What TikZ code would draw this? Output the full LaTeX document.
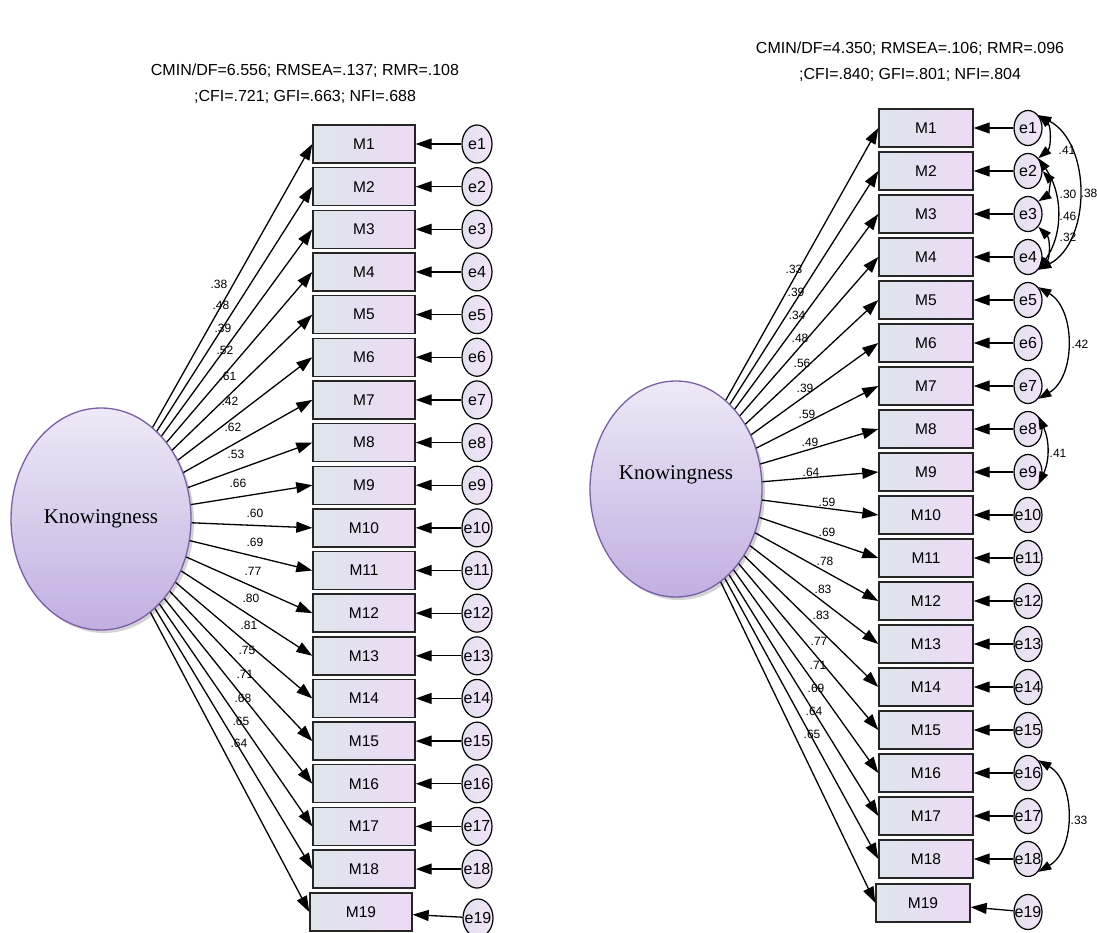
\documentclass[tikz,border=0pt]{standalone}
\usepackage{fontspec}
\setmainfont{Liberation Sans}
\newfontfamily\serifname{Liberation Serif}
\usetikzlibrary{shapes,arrows.meta,shadows}
\definecolor{boxL}{RGB}{222,229,236}
\definecolor{boxR}{RGB}{238,218,245}
\definecolor{errL}{RGB}{226,224,238}
\definecolor{errR}{RGB}{243,228,248}
\definecolor{latTop}{RGB}{238,233,247}
\definecolor{latBot}{RGB}{193,175,225}
\definecolor{latEdge}{RGB}{122,94,166}
\tikzstyle{obs} = [rectangle, draw=black!85, line width=1.4pt, left color=boxL, right color=boxR,
    minimum height=38pt, inner sep=0pt, font=\fontsize{15.5}{15.5}\selectfont]
\tikzstyle{err} = [ellipse, draw, line width=1.2pt, left color=errL, right color=errR,
    inner sep=-6pt, font=\fontsize{16}{16}\selectfont]
\tikzstyle{latent} = [ellipse, draw=latEdge, line width=1.3pt, top color=latTop, bottom color=latBot,
    drop shadow={shadow xshift=3pt, shadow yshift=-3pt, opacity=0.35},
    font=\serifname\fontsize{21}{21}\selectfont]
\tikzstyle{line} = [draw, line width=1.3pt, -{Triangle[length=16pt,width=11pt]}]
\tikzstyle{cov} = [draw, line width=1.3pt, {Triangle[length=13pt,width=9pt]}-{Triangle[length=13pt,width=9pt]}]
\tikzstyle{lbl} = [inner sep=0pt, font=\fontsize{12}{12}\selectfont]
\tikzstyle{fitidx} = [align=center, font=\fontsize{16}{26}\selectfont]

\begin{document}
\begin{tikzpicture}[x=1pt, y=-1pt]
    \useasboundingbox (0,0) rectangle (1097,933);
    % fit indices
    \node [fitidx] (fitL) at (305,84) {CMIN/DF=6.556; RMSEA=.137; RMR=.108\\;CFI=.721; GFI=.663; NFI=.688};
    \node [fitidx] (fitR) at (910,62) {CMIN/DF=4.350; RMSEA=.106; RMR=.096\\;CFI=.840; GFI=.801; NFI=.804};

    % latent factors
    \node [latent, minimum width=180pt, minimum height=222pt] (knowL) at (101,519) {Knowingness};
    \node [latent, minimum width=172pt, minimum height=216pt, text depth=32pt] (knowR) at (676,489) {Knowingness};

    % first model
    \foreach \i in {1,...,18} {
        \pgfmathsetmacro{\yy}{144+(\i-1)*42.65}
        \node [obs, minimum width=102pt] (lm\i) at (364,\yy) {M\i};
        \node [err, minimum width=30pt, minimum height=38pt] (le\i) at (477,\yy) {e\i};
        \path [line] (le\i) -- (lm\i);
        \path [line] (knowL) -- (lm\i.west);
    }
    \node [obs, minimum width=102pt] (lm19) at (361,912) {M19};
    \node [err, minimum width=30pt, minimum height=38pt] (le19) at (478,918) {e19};
    \path [line] (le19) -- (lm19);
    \path [line] (knowL) -- (lm19.west);
    \foreach \lab/\lx/\ly [count=\i] in {.38/219/284, .48/221/305, .39/223/328, .52/225/350,
        .61/228/376, .42/230/401, .62/233/427, .53/236/454, .66/238/483, .60/255/513,
        .69/255/542, .77/253/571, .80/251/598, .81/249/625, .75/247/650, .71/245/674,
        .68/243/698, .65/241/721, .64/239/743}
        \node [lbl] (ll\i) at (\lx,\ly) {\lab};

    % modified model
    \foreach \i in {1,...,18} {
        \pgfmathsetmacro{\yy}{128+(\i-1)*43}
        \node [obs, minimum width=94pt] (rm\i) at (926,\yy) {M\i};
        \node [err, minimum width=28pt, minimum height=35pt] (re\i) at (1028,\yy) {e\i};
        \path [line] (re\i) -- (rm\i);
        \path [line] (knowR) -- (rm\i.west);
    }
    \node [obs, minimum width=94pt] (rm19) at (923,903) {M19};
    \node [err, minimum width=28pt, minimum height=35pt] (re19) at (1028,912) {e19};
    \path [line] (re19) -- (rm19);
    \path [line] (knowR) -- (rm19.west);
    \foreach \lab/\lx/\ly [count=\i] in {.33/794/269, .39/796/292, .34/797/315, .48/800/338,
        .56/802/363, .39/805/388, .59/807/414, .49/810/442, .64/811/472, .59/827/502,
        .69/827/532, .78/825/561, .83/823/589, .83/821/615, .77/819/641, .71/818/665,
        .69/816/688, .64/814/711, .65/812/734}
        \node [lbl] (rl\i) at (\lx,\ly) {\lab};

    % correlated errors
    \path [cov] (re1.north east) to [bend left=50] (re2.north east);
    \path [cov] (re2.east) to [bend left=50] (re3.north east);
    \path [cov] (re2.north east) to [bend left=35] (re4.south east);
    \path [cov] (re3.south east) to [bend left=45] (re4.south east);
    \path [cov] (re1.north east) to [bend left=62] (re4.south east);
    \path [cov] (re5.north east) to [bend left=60] (re7.south east);
    \path [cov] (re8.north east) to [bend left=25] (re9.south east);
    \path [cov] (re16.north east) to [bend left=60] (re18.south east);
    \node [lbl] (c12) at (1067,150) {.41};
    \node [lbl] (c23) at (1068,194) {.30};
    \node [lbl] (c24) at (1068,216) {.46};
    \node [lbl] (c34) at (1068,237) {.32};
    \node [lbl] (c14) at (1089,193) {.38};
    \node [lbl] (c57) at (1080,344) {.42};
    \node [lbl] (c89) at (1058,453) {.41};
    \node [lbl] (c1618) at (1079,820) {.33};

\end{tikzpicture}
\end{document}
